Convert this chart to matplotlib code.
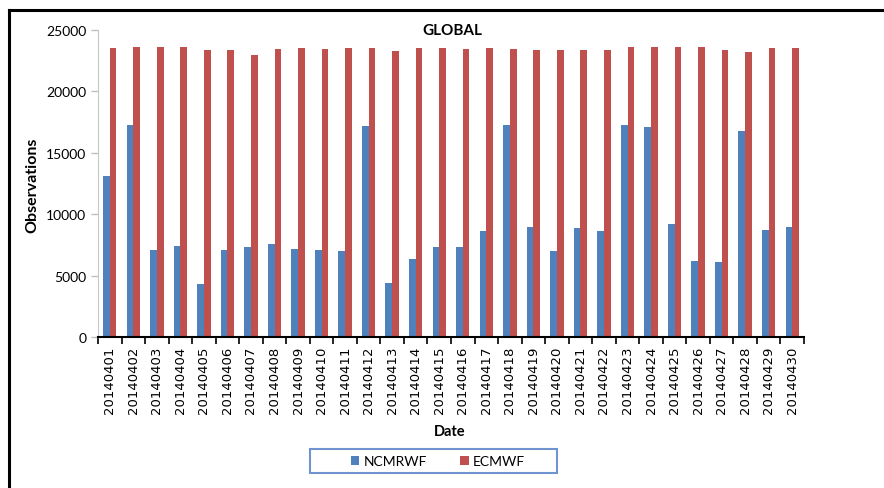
import numpy as np
import matplotlib
matplotlib.use("Agg")
import matplotlib.pyplot as plt
from matplotlib.lines import Line2D
from matplotlib.patches import Rectangle
from matplotlib.ticker import FixedLocator, NullFormatter

dates = ["201404%02d" % d for d in range(1, 31)]
ncmrwf = [13150, 17300, 7050, 7400, 4300, 7050, 7300, 7550, 7150, 7050,
          7000, 17150, 4400, 6350, 7300, 7300, 8650, 17250, 8950, 7000,
          8850, 8650, 17300, 17100, 9200, 6150, 6100, 16800, 8750, 8950]
ecmwf = [23500, 23600, 23600, 23600, 23400, 23350, 22950, 23450, 23500, 23450,
         23500, 23500, 23300, 23500, 23500, 23450, 23500, 23450, 23400, 23350,
         23350, 23350, 23600, 23600, 23600, 23600, 23400, 23200, 23500, 23500]

blue = '#4F81BD'
red = '#C0504D'

fig = plt.figure(figsize=(8.84, 4.89), dpi=100)
ax = fig.add_axes([98/884., 1 - 338/489., (804 - 98)/884., (338 - 31)/489.])

x = np.arange(len(dates))
w = 1 / 3.5
ax.bar(x - w/2, ncmrwf, w, color=blue, edgecolor='none', label='NCMRWF')
ax.bar(x + w/2, ecmwf, w, color=red, edgecolor='none', label='ECMWF')

ax.set_xlim(-0.5, len(dates) - 0.5)
ax.set_ylim(0, 25000)
ax.set_yticks(np.arange(0, 25001, 5000))
ax.tick_params(axis='y', labelsize=10, colors='#bfbfbf', labelcolor='black', length=5, width=1)
for t in ax.get_yticklabels():
    t.set_family('Lato')

# category boundaries get the tick marks, labels sit at centres
ax.xaxis.set_major_locator(FixedLocator(np.arange(-0.5, len(dates), 1)))
ax.xaxis.set_major_formatter(NullFormatter())
ax.xaxis.set_minor_locator(FixedLocator(x))
ax.set_xticklabels(dates, minor=True, rotation=90, fontsize=9.5, family='DejaVu Sans')
ax.tick_params(axis='x', which='major', length=5, width=1.2, color='black')
ax.tick_params(axis='x', which='minor', length=0, pad=6)

for s in ['top', 'right']:
    ax.spines[s].set_visible(False)
ax.spines['left'].set_color('#c8c8c8')
ax.spines['bottom'].set_color('black')
ax.spines['bottom'].set_linewidth(1.5)

fig.text(452/884., 1 - 31/489., 'GLOBAL', ha='center', va='center', family='Lato',
         fontweight='bold', fontsize=11)
fig.text(32/884., 1 - 185/489., 'Observations', ha='center', va='center', rotation=90,
         family='Lato', fontweight='bold', fontsize=11.5)
fig.text(450/884., 1 - 432/489., 'Date', ha='center', va='center', family='Lato',
         fontweight='bold', fontsize=10.5)

leg = fig.legend(loc='center', bbox_to_anchor=(438/884., 1 - 462/489.), ncol=2,
                 frameon=False, prop={'family': 'Lato', 'size': 10},
                 handlelength=0.6, handleheight=0.6, handletextpad=0.3,
                 columnspacing=2.4)
# legend box is wider than its entries
fig.add_artist(Rectangle((310/884., 1 - 474/489.), 247/884., 24/489.,
                         transform=fig.transFigure, fill=False,
                         edgecolor='#6f94cf', lw=1.5))

# outer frame
fig.add_artist(Line2D([9/884., 1], [1 - 11/489.] * 2, color='black', lw=2.2))
fig.add_artist(Line2D([9/884.] * 2, [0, 1 - 11/489.], color='black', lw=2.2))

fig.savefig('out.png', dpi=100)
